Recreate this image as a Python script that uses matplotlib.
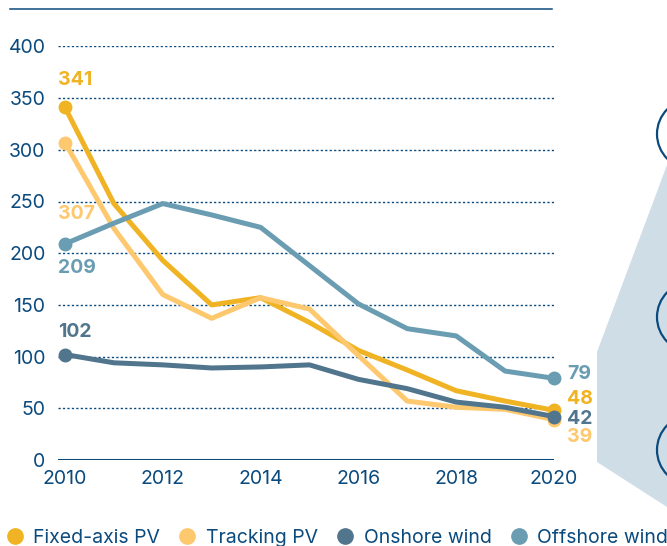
import matplotlib.pyplot as plt
from matplotlib.lines import Line2D
from matplotlib.patches import Polygon, Circle

# data (USD/MWh style cost index)
years = [2010, 2011, 2012, 2013, 2014, 2015, 2016, 2017, 2018, 2019, 2020]
fixed_pv = [341, 248, 193, 150, 157, 133, 106, 87, 67, 57, 48]
tracking_pv = [307, 224, 160, 137, 157, 146, 101, 57, 51, 49, 39]
onshore_wind = [102, 94, 92, 89, 90, 92, 78, 69, 56, 51, 42]
offshore_wind = [209, 229, 248, 237, 225, 188, 151, 127, 120, 86, 79]

names = ["Fixed-axis PV", "Tracking PV", "Onshore wind", "Offshore wind"]
colors = ["#f0b323", "#fdc86e", "#50758c", "#6a9db2"]
navy = "#0b4a7d"

plt.rcParams['font.family'] = ['Inter', 'DejaVu Sans']

W, H = 667, 546
fig = plt.figure(figsize=(W / 100, H / 100), dpi=100)

# decoration layer in pixel coordinates
deco = fig.add_axes([0, 0, 1, 1], zorder=0)
deco.set_xlim(0, W)
deco.set_ylim(H, 0)
deco.axis('off')
deco.add_patch(Polygon([(597, 352), (597, 462), (667, 507), (667, 165)],
                       closed=True, facecolor="#cfdde7", edgecolor='none'))
for cy in (134, 317, 450):
    deco.add_patch(Circle((692, cy), 35, facecolor='none', edgecolor=navy, lw=1.6))
deco.add_line(Line2D([10, 552], [9, 9], color=navy, lw=1.1))

# main chart
ax = fig.add_axes([58 / W, (H - 460) / H, (554 - 58) / W, (460 - 46.4) / H], zorder=1)
ax.patch.set_alpha(0)
ax.set_xlim(2009.857, 2020)
ax.set_ylim(0, 400)

series = [fixed_pv, tracking_pv, onshore_wind, offshore_wind]
for vals, c in zip(series, colors):
    ax.plot(years, vals, color=c, lw=3.6, solid_capstyle='round', clip_on=False, zorder=3)
    ax.plot([years[0], years[-1]], [vals[0], vals[-1]], 'o', color=c, ms=9,
            clip_on=False, zorder=3)

for y in range(50, 401, 50):
    ax.axhline(y, color=navy, lw=1.0, ls=(0, (1.6, 1.6)), zorder=1)
ax.axhline(0, color=navy, lw=2.2, zorder=2)

for s in ax.spines.values():
    s.set_visible(False)
ax.set_yticks(range(0, 401, 50))
ax.set_xticks(range(2010, 2021, 2))
ax.tick_params(length=0, colors=navy, labelsize=14)
ax.tick_params(axis='y', pad=9)
ax.tick_params(axis='x', pad=7)

# value labels (offsets in pixels -> points)
px = 72 / 100
left_offsets = [(-7, 27), (-7, -71), (-7, 23), (-7, -24)]
right_offsets = [(13, 11), (13, -17), (13, -2), (13, 4)]
for vals, c, lo, ro in zip(series, colors, left_offsets, right_offsets):
    ax.annotate(str(vals[0]), (years[0], vals[0]), xytext=(lo[0] * px, lo[1] * px),
                textcoords='offset points', ha='left', va='center', color=c,
                fontsize=14, fontweight='bold', annotation_clip=False)
    ax.annotate(str(vals[-1]), (years[-1], vals[-1]), xytext=(ro[0] * px, ro[1] * px),
                textcoords='offset points', ha='left', va='center', color=c,
                fontsize=14, fontweight='bold', annotation_clip=False)

handles = [Line2D([], [], marker='o', ls='none', color=c, ms=11) for c in colors]
fig.legend(handles, names, loc='center left', bbox_to_anchor=(7 / W, (H - 538) / H),
           ncol=4, frameon=False, fontsize=14, labelcolor=navy, borderpad=0,
           handletextpad=0.55, columnspacing=1.0, handlelength=0.8, borderaxespad=0)

fig.savefig("out.png", dpi=100)
